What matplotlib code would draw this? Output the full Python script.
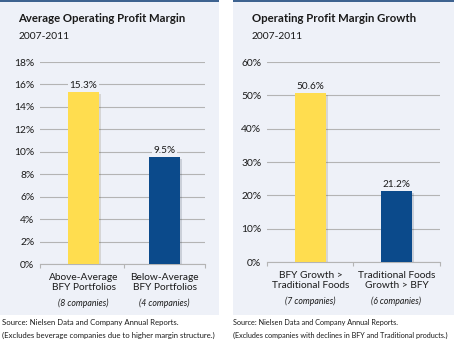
import matplotlib.pyplot as plt
import matplotlib.patheffects as pe
from matplotlib.patches import Rectangle

# Average operating profit margin, 2007-2011
margin_cats = ['Above-Average\nBFY Portfolios', 'Below-Average\nBFY Portfolios']
margin_counts = ['(8 companies)', '(4 companies)']
margin_vals = [15.3, 9.5]

# Operating profit margin growth, 2007-2011
growth_cats = ['BFY Growth >\nTraditional Foods', 'Traditional Foods\nGrowth > BFY']
growth_counts = ['(7 companies)', '(6 companies)']
growth_vals = [50.6, 21.2]

YELLOW = '#FFDD4F'
NAVY = '#0B4A8B'
PANEL = '#EEF1F8'
BORDER = '#3E6390'
GRID = '#B4B4B4'
TEXT = '#1A1A1A'

plt.rcParams['font.family'] = ['Lato', 'DejaVu Sans']

fig = plt.figure(figsize=(4.54, 3.40), dpi=100)
fig.patch.set_facecolor('white')


def add_panel(x0, x1):
    fig.patches.append(Rectangle((x0, 0.0735), x1 - x0, 1 - 0.0735,
                                 transform=fig.transFigure, facecolor=PANEL,
                                 edgecolor='none', zorder=-2))
    fig.patches.append(Rectangle((x0, 0.994), x1 - x0, 0.006,
                                 transform=fig.transFigure, facecolor=BORDER,
                                 edgecolor='none', zorder=-1))


def draw_bars(ax, cats, counts, vals, ymax, step, xlim, width):
    ax.set_facecolor(PANEL)
    bars = ax.bar(range(len(vals)), vals, width=width, color=[YELLOW, NAVY],
                  zorder=3)
    for b in bars:
        b.set_path_effects([pe.SimplePatchShadow(offset=(1.5, -1), alpha=0.15),
                            pe.Normal()])
    for i, v in enumerate(vals):
        ax.text(i, v + ymax * 0.012, f'{v:.1f}%', ha='center', va='bottom',
                fontsize=7.2, color=TEXT, zorder=4,
                bbox=dict(facecolor=PANEL, edgecolor='none', pad=1.2))
        ax.text(i, -ymax * 0.045, cats[i], ha='center', va='top', fontsize=7.3,
                color=TEXT, linespacing=1.15)
        ax.text(i, -ymax * 0.172, counts[i], ha='center', va='top', fontsize=6.3,
                style='italic', color=TEXT)
    ax.set_xlim(*xlim)
    ax.set_ylim(0, ymax)
    ax.set_yticks(range(0, ymax + 1, step))
    ax.set_yticklabels([f'{t}%' for t in range(0, ymax + 1, step)],
                       fontsize=7.4, color=TEXT)
    ax.tick_params(axis='y', length=0, pad=4)
    ax.set_xticks([xlim[0], 0.5, xlim[1]])
    ax.set_xticklabels([])
    ax.tick_params(axis='x', length=3, color=GRID, width=0.8)
    ax.grid(axis='y', color=GRID, linewidth=0.8, zorder=1)
    for s in ['top', 'right', 'left']:
        ax.spines[s].set_visible(False)
    ax.spines['bottom'].set_color(GRID)
    ax.spines['bottom'].set_linewidth(0.8)


add_panel(0.0, 0.482)
add_panel(0.513, 1.0)

ax1 = fig.add_axes([0.088, 0.2235, 0.364, 0.594])
draw_bars(ax1, margin_cats, margin_counts, margin_vals, 18, 2,
          (-0.537, 1.499), 0.38)

ax2 = fig.add_axes([0.588, 0.2294, 0.381, 0.588])
draw_bars(ax2, growth_cats, growth_counts, growth_vals, 60, 10,
          (-0.506, 1.506), 0.36)

fig.text(0.040, 0.945, 'Average Operating Profit Margin', fontsize=8.2,
         fontweight='bold', color=TEXT, va='center')
fig.text(0.040, 0.893, '2007-2011', fontsize=7.4, color=TEXT, va='center')
fig.text(0.555, 0.945, 'Operating Profit Margin Growth', fontsize=8.2,
         fontweight='bold', color=TEXT, va='center')
fig.text(0.555, 0.893, '2007-2011', fontsize=7.4, color=TEXT, va='center')

fig.text(0.004, 0.050, 'Source: Nielsen Data and Company Annual Reports.',
         fontsize=5.6, color=TEXT, va='center')
fig.text(0.004, 0.014, '(Excludes beverage companies due to higher margin structure.)',
         fontsize=5.6, color=TEXT, va='center')
fig.text(0.513, 0.050, 'Source: Nielsen Data and Company Annual Reports.',
         fontsize=5.2, color=TEXT, va='center')
fig.text(0.513, 0.014, '(Excludes companies with declines in BFY and Traditional products.)',
         fontsize=5.2, color=TEXT, va='center')

fig.savefig('out.png', dpi=100)
